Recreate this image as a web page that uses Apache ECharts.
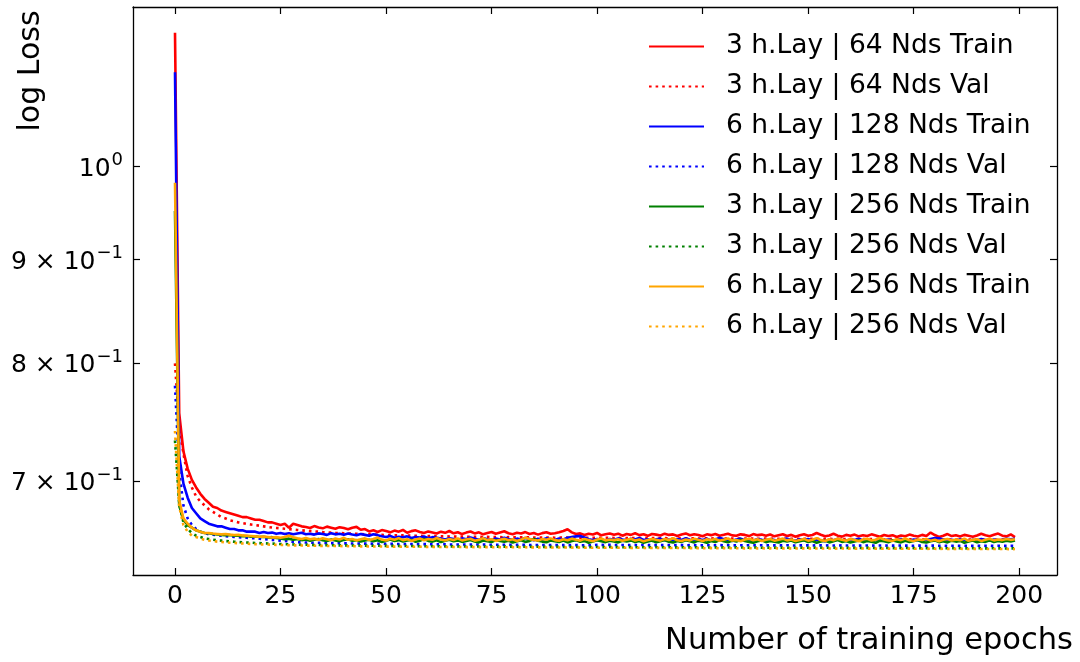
<!DOCTYPE html>
<html>
<head>
<meta charset="utf-8">
<script src="https://cdn.jsdelivr.net/npm/echarts@6/dist/echarts.min.js"></script>
<style>html,body{margin:0;padding:0;background:#fff;}#c{width:1080px;height:662px;}</style>
</head>
<body>
<div id="c"></div>
<script>
// ---------- data ----------
const seriesNames = [
  '3 h.Lay | 64 Nds Train', '3 h.Lay | 64 Nds Val',
  '6 h.Lay | 128 Nds Train', '6 h.Lay | 128 Nds Val',
  '3 h.Lay | 256 Nds Train', '3 h.Lay | 256 Nds Val',
  '6 h.Lay | 256 Nds Train', '6 h.Lay | 256 Nds Val'
];
const xTicks = [0, 25, 50, 75, 100, 125, 150, 175, 200];
const yTicks = [0.7, 0.8, 0.9, 1.0];

const red_train = [
1.164,0.756,0.724,0.710,0.701,0.695,0.690,0.686,0.683,0.680,
0.679,0.677,0.676,0.675,0.674,0.673,0.672,0.672,0.671,0.670,
0.670,0.669,0.668,0.668,0.667,0.666,0.667,0.664,0.667,0.666,
0.6650,0.6645,0.6638,0.6652,0.6641,0.6635,0.6648,0.6640,0.6632,0.6644,0.6637,0.6628,0.6640,0.6646,0.6624,
0.6630,0.6612,0.6620,0.6608,0.6622,0.6615,0.6605,0.6618,0.6610,0.6623,0.6602,0.6614,0.6620,0.6607,0.6600,
0.6612,0.6604,0.6596,0.6610,0.6601,0.6615,0.6598,0.6606,0.6592,0.6603,0.6611,0.6597,0.6605,0.6590,0.6600,
0.6608,0.6595,0.6604,0.6613,0.6598,0.6591,0.6602,0.6596,0.6607,0.6593,0.6600,0.6588,0.6599,0.6605,0.6594,
0.6598,0.6606,0.6615,0.6628,0.6605,0.6592,0.6597,0.6585,0.6594,0.6589,0.6600,0.6583,0.6591,0.6596,0.6587,
0.6595,0.6580,0.6592,0.6586,0.6598,0.6584,0.6590,0.6579,0.6593,0.6588,0.6581,0.6595,0.6586,0.6590,0.6578,
0.6589,0.6597,0.6583,0.6591,0.6585,0.6576,0.6590,0.6584,0.6593,0.6580,0.6587,0.6595,0.6582,0.6579,0.6590,
0.6586,0.6577,0.6592,0.6584,0.6588,
0.6580,0.6589,0.6575,0.6584,0.6591,0.6578,0.6586,0.6572,0.6583,0.6590,0.6579,0.6585,0.6600,0.6587,0.6576,
0.6582,0.6594,0.6580,0.6573,0.6586,0.6579,0.6588,0.6575,0.6583,0.6578,0.6590,0.6581,0.6572,0.6585,0.6577,
0.6584,0.6570,0.6582,0.6576,0.6588,0.6579,0.6574,0.6586,0.6578,0.6603,0.6585,0.6571,0.6580,0.6592,0.6577,
0.6583,0.6574,0.6586,0.6579,0.6572,0.6581,0.6594,0.6583,0.6576,0.6587,0.6596,0.6580,0.6575,0.6589,0.6570
];
const red_val = [
0.800,0.745,0.722,0.704,0.695,0.688,0.684,0.681,0.678,0.676,
0.674,0.672,0.671,0.6695,0.6688,0.6680,0.6674,0.6668,0.6664,0.6660,
0.6655,0.6650,0.6645,0.6641,0.6638,0.6635,0.6632,0.6629,0.6626,0.6623,
0.6620,0.6617,0.6615,0.6612,0.6610,0.6607,0.6605,0.6603,0.6601,0.6600,
0.6598,0.6596,0.6595,0.6594,0.6592,0.6591,0.6590,0.6589,0.6587,0.6586,
0.6585,0.6584,0.6583,0.6583,0.6582,0.6581,0.6580,0.6580,0.6579,0.6578,
0.6577,0.6577,0.6576,0.6575,0.6576,0.6574,0.6574,0.6573,0.6574,0.6572,
0.6572,0.6571,0.6572,0.6570,0.6571,0.6570,0.6569,0.6570,0.6568,0.6569,
0.6568,0.6567,0.6568,0.6567,0.6567,0.6566,0.6567,0.6566,0.6566,0.6566,
0.6565,0.6566,0.6565,0.6566,0.6565,0.6564,0.6565,0.6565,0.6564,0.6565,
0.6565,0.6564,0.6565,0.6564,0.6563,0.6564,0.6563,0.6563,0.6562,0.6563,
0.6562,0.6562,0.6561,0.6562,0.6561,0.6561,0.6562,0.6560,0.6561,0.6561,
0.6560,0.6561,0.6560,0.6560,0.6559,0.6560,0.6560,0.6559,0.6560,0.6559,
0.6559,0.6558,0.6559,0.6559,0.6558,0.6559,0.6558,0.6558,0.6557,0.6558,
0.6558,0.6557,0.6558,0.6557,0.6557,0.6556,0.6557,0.6557,0.6556,0.6557,
0.6556,0.6556,0.6557,0.6555,0.6556,0.6556,0.6555,0.6556,0.6555,0.6555,
0.6555,0.6554,0.6555,0.6555,0.6554,0.6555,0.6554,0.6554,0.6553,0.6554,
0.6554,0.6553,0.6554,0.6553,0.6553,0.6554,0.6552,0.6553,0.6553,0.6552,
0.6553,0.6552,0.6552,0.6553,0.6551,0.6552,0.6552,0.6551,0.6552,0.6551,
0.6551,0.6552,0.6550,0.6551,0.6551,0.6550,0.6551,0.6550,0.6550,0.6551
];
const blue_train = [
1.113,0.720,0.698,0.687,0.679,0.675,0.671,0.669,0.667,0.666,
0.665,0.665,0.664,0.663,0.663,0.662,0.662,0.661,0.661,0.661,
0.660,0.6608,0.6600,0.6603,0.6594,
0.6600,0.6592,0.6598,0.6590,0.6596,0.6602,0.6591,0.6595,0.6588,0.6597,0.6593,0.6586,
0.6599,0.6590,0.6594,0.6587,0.6596,0.6589,0.6583,0.6592,0.6586,0.6580,0.6590,0.6584,
0.6576,0.6570,0.6578,0.6565,0.6572,0.6568,0.6575,0.6563,0.6570,0.6566,0.6574,0.6561,0.6569,0.6564,
0.6558,0.6552,0.6561,0.6555,0.6548,0.6560,0.6553,0.6566,0.6557,0.6550,
0.6562,0.6554,0.6547,0.6559,0.6552,0.6564,0.6556,0.6549,0.6558,0.6551,
0.6563,0.6555,0.6546,0.6557,0.6550,0.6561,0.6553,
0.6548,0.6559,0.6552,0.6565,0.6570,0.6575,0.6578,0.6566,0.6553,0.6547,
0.6556,0.6550,0.6543,0.6555,0.6549,0.6560,0.6552,0.6545,0.6557,0.6551,
0.6563,0.6548,0.6554,0.6541,0.6553,0.6558,0.6546,0.6552,0.6544,0.6556,
0.6549,0.6561,0.6550,0.6543,0.6555,0.6548,0.6557,0.6545,0.6551,0.6564,
0.6553,0.6547,0.6540,0.6552,0.6558,0.6546,0.6550,0.6543,0.6556,0.6549,
0.6545,0.6553,0.6547,0.6540,0.6551,0.6558,0.6549,0.6542,0.6554,0.6547,
0.6556,0.6543,0.6550,0.6545,0.6538,0.6552,0.6546,0.6555,0.6548,0.6541,
0.6553,0.6547,0.6557,0.6544,0.6550,0.6539,0.6548,0.6554,0.6545,0.6551,
0.6542,0.6549,0.6556,0.6546,0.6540,0.6552,0.6547,0.6544,0.6550,0.6556,
0.6562,0.6560,0.6551,0.6545,0.6549,0.6542,0.6553,0.6547,0.6541,0.6550,
0.6546,0.6555,0.6548,0.6543,0.6552,0.6545,0.6549,0.6557,0.6553,0.6556
];
const blue_val = [
0.780,0.708,0.681,0.671,0.666,0.663,0.661,0.660,0.659,0.6587,
0.6583,0.6580,0.6577,0.6574,0.6571,0.6568,0.6566,0.6564,0.6562,0.6560,
0.6557,0.6554,0.6551,0.6549,0.6546,0.6543,0.6540,0.6537,0.6534,0.6532,
0.6530,0.6529,0.6528,0.6527,0.6527,0.6526,0.6525,0.6525,0.6524,0.6524,
0.6523,0.6523,0.6522,0.6522,0.6521,0.6521,0.6521,0.6520,0.6520,0.6520,
0.6519,0.6519,0.6519,0.6518,0.6518,0.6518,0.6518,0.6517,0.6517,0.6517,
0.6517,0.6516,0.6516,0.6516,0.6516,0.6515,0.6515,0.6515,0.6515,0.6514,
0.6514,0.6514,0.6514,0.6514,0.6513,0.6513,0.6513,0.6513,0.6513,0.6512,
0.6512,0.6512,0.6512,0.6512,0.6511,0.6511,0.6511,0.6511,0.6511,0.6511,
0.6510,0.6510,0.6510,0.6510,0.6510,0.6510,0.6509,0.6509,0.6509,0.6509,
0.6512,0.6512,0.6511,0.6512,0.6511,0.6511,0.6511,0.6510,0.6511,0.6511,
0.6510,0.6511,0.6510,0.6510,0.6510,0.6510,0.6511,0.6510,0.6509,0.6510,
0.6510,0.6509,0.6510,0.6510,0.6509,0.6509,0.6510,0.6509,0.6509,0.6510,
0.6509,0.6509,0.6508,0.6509,0.6509,0.6508,0.6509,0.6509,0.6508,0.6509,
0.6508,0.6509,0.6508,0.6508,0.6508,0.6509,0.6508,0.6507,0.6508,0.6508,
0.6508,0.6507,0.6508,0.6508,0.6507,0.6508,0.6507,0.6507,0.6508,0.6507,
0.6507,0.6507,0.6506,0.6507,0.6507,0.6506,0.6507,0.6507,0.6506,0.6507,
0.6506,0.6507,0.6506,0.6506,0.6506,0.6505,0.6506,0.6506,0.6505,0.6506,
0.6506,0.6505,0.6506,0.6505,0.6505,0.6506,0.6505,0.6505,0.6504,0.6505,
0.6505,0.6504,0.6505,0.6505,0.6504,0.6505,0.6504,0.6504,0.6505,0.6504
];
const green_train = [
0.951,0.681,0.670,0.666,0.664,0.662,0.661,0.660,0.6598,0.6592,
0.6590,0.6586,0.6583,0.6585,0.6579,0.6580,0.6576,0.6578,0.6573,0.6575,
0.6570,0.6572,0.6566,0.6569,0.6563,
0.6560,0.6553,0.6558,0.6549,0.6555,0.6547,0.6552,0.6543,0.6550,0.6556,
0.6546,0.6540,0.6551,0.6545,0.6538,0.6549,0.6553,0.6542,0.6547,0.6536,
0.6545,0.6550,0.6539,0.6546,0.6533,0.6543,0.6552,0.6540,0.6547,0.6537,
0.6544,0.6549,0.6535,0.6542,0.6555,0.6541,0.6536,0.6546,0.6532,0.6543,
0.6550,0.6538,0.6545,0.6534,0.6541,0.6548,0.6537,0.6530,0.6544,0.6539,
0.6533,0.6547,0.6540,0.6535,0.6543,0.6529,0.6538,0.6546,0.6534,0.6541,
0.6555,0.6542,0.6536,0.6531,0.6545,0.6538,0.6533,0.6544,0.6530,0.6540,
0.6547,0.6535,0.6541,0.6528,0.6537,0.6546,0.6539,0.6532,0.6543,0.6536,
0.6530,0.6542,0.6537,0.6545,0.6533,0.6540,0.6528,0.6536,0.6544,0.6531,
0.6539,0.6548,0.6535,0.6529,0.6541,0.6534,0.6546,0.6538,0.6530,0.6543,
0.6536,0.6527,0.6540,0.6533,0.6547,0.6539,0.6531,0.6544,0.6537,0.6550,
0.6541,0.6534,0.6528,0.6539,0.6545,0.6532,0.6540,0.6535,0.6529,0.6542,
0.6537,0.6544,0.6531,0.6538,0.6546,0.6533,0.6540,0.6528,0.6536,0.6543,
0.6530,0.6539,0.6547,0.6534,0.6541,0.6529,0.6537,0.6545,0.6532,0.6540,
0.6535,0.6527,0.6543,0.6538,0.6531,0.6546,0.6536,0.6530,0.6542,0.6534,
0.6540,0.6548,0.6533,0.6529,0.6539,0.6545,0.6532,0.6538,0.6530,0.6543,
0.6536,0.6541,0.6528,0.6537,0.6544,0.6531,0.6539,0.6534,0.6546,0.6533,
0.6540,0.6535,0.6542,0.6537,0.6544
];
const green_val = [
0.733,0.682,0.668,0.663,0.660,0.658,0.657,0.656,0.6555,0.6550,
0.6546,0.6543,0.6540,0.6538,0.6535,0.6533,0.6531,0.6529,0.6528,0.6526,
0.6525,0.6523,0.6522,0.6521,0.6520,0.6518,0.6517,0.6516,0.6515,0.6514,
0.6513,0.6513,0.6512,0.6511,0.6511,0.6510,0.6510,0.6509,0.6509,0.6508,
0.6508,0.6507,0.6507,0.6507,0.6506,0.6506,0.6506,0.6505,0.6505,0.6505,
0.6504,0.6504,0.6504,0.6504,0.6503,0.6503,0.6503,0.6503,0.6502,0.6502,
0.6502,0.6502,0.6501,0.6502,0.6501,0.6501,0.6501,0.6500,0.6501,0.6500,
0.6500,0.6500,0.6500,0.6499,0.6500,0.6499,0.6499,0.6499,0.6499,0.6498,
0.6499,0.6498,0.6498,0.6498,0.6498,0.6497,0.6498,0.6497,0.6497,0.6497,
0.6497,0.6497,0.6496,0.6497,0.6496,0.6496,0.6496,0.6496,0.6495,0.6496,
0.6496,0.6495,0.6495,0.6496,0.6495,0.6495,0.6494,0.6495,0.6495,0.6494,
0.6495,0.6494,0.6494,0.6494,0.6495,0.6494,0.6493,0.6494,0.6494,0.6493,
0.6494,0.6493,0.6493,0.6494,0.6493,0.6493,0.6492,0.6493,0.6493,0.6492,
0.6493,0.6492,0.6492,0.6493,0.6492,0.6492,0.6491,0.6492,0.6492,0.6491,
0.6492,0.6491,0.6491,0.6492,0.6491,0.6491,0.6490,0.6491,0.6491,0.6490,
0.6491,0.6490,0.6490,0.6491,0.6490,0.6490,0.6490,0.6489,0.6490,0.6490,
0.6489,0.6490,0.6489,0.6489,0.6490,0.6489,0.6489,0.6488,0.6489,0.6489,
0.6488,0.6489,0.6488,0.6488,0.6489,0.6488,0.6488,0.6487,0.6488,0.6488,
0.6487,0.6488,0.6487,0.6487,0.6488,0.6487,0.6487,0.6486,0.6487,0.6487,
0.6486,0.6487,0.6486,0.6486,0.6487,0.6486,0.6486,0.6485,0.6486,0.6486
];
const orange_train = [
0.982,0.685,0.671,0.667,0.664,0.662,0.661,0.660,0.6600,0.6596,
0.6593,0.6590,0.6592,0.6588,0.6585,0.6587,0.6582,0.6580,0.6578,0.6575,
0.6572,0.6574,0.6570,0.6566,0.6569,
0.6565,0.6570,0.6580,0.6568,0.6560,0.6555,0.6562,0.6553,0.6558,0.6550,
0.6561,0.6554,0.6547,0.6559,0.6552,0.6564,0.6549,0.6556,0.6545,0.6553,
0.6560,0.6548,0.6555,0.6566,0.6551,0.6544,0.6557,0.6550,0.6562,0.6547,
0.6554,0.6541,0.6552,0.6559,0.6546,0.6556,0.6549,0.6563,0.6551,0.6544,
0.6555,0.6548,0.6560,0.6545,0.6552,0.6557,0.6543,0.6550,0.6562,0.6547,
0.6554,0.6541,0.6549,0.6558,0.6546,0.6553,0.6540,0.6551,0.6565,0.6556,
0.6548,0.6544,0.6555,0.6549,0.6560,0.6547,0.6542,0.6553,0.6546,0.6558,
0.6550,0.6543,0.6556,0.6548,0.6539,0.6552,0.6559,0.6545,0.6551,0.6547,
0.6554,0.6542,0.6549,0.6557,0.6544,0.6551,0.6538,0.6547,0.6556,0.6550,
0.6543,0.6555,0.6548,0.6561,0.6546,0.6540,0.6552,0.6545,0.6558,0.6549,
0.6541,0.6553,0.6547,0.6555,0.6542,0.6550,0.6559,0.6544,0.6548,0.6539,
0.6551,0.6557,0.6546,0.6553,0.6540,0.6549,0.6555,0.6543,0.6550,0.6558,
0.6545,0.6552,0.6541,0.6548,0.6556,0.6543,0.6550,0.6562,0.6547,0.6540,
0.6553,0.6546,0.6558,0.6549,0.6542,0.6555,0.6548,0.6539,0.6551,0.6557,
0.6544,0.6550,0.6563,0.6552,0.6545,0.6541,0.6554,0.6547,0.6559,0.6546,
0.6540,0.6552,0.6548,0.6556,0.6543,0.6550,0.6538,0.6549,0.6555,0.6544,
0.6551,0.6546,0.6558,0.6542,0.6549,0.6554,0.6541,0.6550,0.6557,0.6545,
0.6552,0.6547,0.6555,0.6549,0.6553
];
const orange_val = [
0.741,0.680,0.666,0.661,0.658,0.657,0.6558,0.6550,0.6544,0.6540,
0.6536,0.6533,0.6530,0.6528,0.6526,0.6524,0.6522,0.6520,0.6519,0.6517,
0.6516,0.6515,0.6514,0.6513,0.6512,0.6511,0.6510,0.6509,0.6508,0.6508,
0.6507,0.6506,0.6506,0.6505,0.6505,0.6504,0.6504,0.6503,0.6503,0.6503,
0.6502,0.6502,0.6502,0.6501,0.6501,0.6501,0.6500,0.6500,0.6500,0.6500,
0.6499,0.6499,0.6499,0.6499,0.6498,0.6498,0.6498,0.6498,0.6498,0.6497,
0.6497,0.6497,0.6497,0.6496,0.6497,0.6496,0.6496,0.6496,0.6496,0.6495,
0.6496,0.6495,0.6495,0.6495,0.6495,0.6494,0.6495,0.6494,0.6494,0.6494,
0.6494,0.6494,0.6493,0.6494,0.6493,0.6493,0.6493,0.6493,0.6492,0.6493,
0.6492,0.6492,0.6492,0.6493,0.6492,0.6491,0.6492,0.6491,0.6491,0.6491,
0.6491,0.6491,0.6490,0.6491,0.6490,0.6490,0.6490,0.6490,0.6489,0.6490,
0.6490,0.6489,0.6489,0.6489,0.6490,0.6489,0.6489,0.6488,0.6489,0.6489,
0.6488,0.6489,0.6488,0.6488,0.6488,0.6488,0.6487,0.6488,0.6488,0.6487,
0.6488,0.6487,0.6487,0.6487,0.6487,0.6486,0.6487,0.6487,0.6486,0.6487,
0.6486,0.6486,0.6487,0.6486,0.6486,0.6485,0.6486,0.6486,0.6485,0.6486,
0.6485,0.6486,0.6485,0.6485,0.6485,0.6485,0.6484,0.6485,0.6485,0.6484,
0.6485,0.6484,0.6484,0.6485,0.6484,0.6484,0.6484,0.6483,0.6484,0.6484,
0.6483,0.6484,0.6483,0.6483,0.6484,0.6483,0.6483,0.6483,0.6482,0.6483,
0.6483,0.6482,0.6483,0.6482,0.6482,0.6482,0.6483,0.6482,0.6481,0.6482,
0.6482,0.6481,0.6482,0.6481,0.6481,0.6482,0.6481,0.6481,0.6480,0.6481
];

// ---------- build chart ----------
const seriesData = [red_train, red_val, blue_train, blue_val, green_train, green_val, orange_train, orange_val];
const colors = ['#ff0000', '#ff0000', '#0000ff', '#0000ff', '#008000', '#008000', '#ffa500', '#ffa500'];
const dotted = [false, true, false, true, false, true, false, true];

const FONT = 'DejaVu Sans';
const nEpochs = Math.max(...seriesData.map(a => a.length));
const xPad = (nEpochs - 1) * 0.05;
const allLog = [].concat(...seriesData).map(v => Math.log10(v));
const lmin = Math.min(...allLog), lmax = Math.max(...allLog);
const lpad = (lmax - lmin) * 0.05;
const yMin = lmin - lpad, yMax = lmax + lpad;
const yTickLog = yTicks.map(v => Math.log10(v));

function yLabel(v) {
  const real = Math.round(Math.pow(10, v) * 10) / 10;
  if (Math.abs(real - 1) < 1e-6) return '{b|10}{s|0}';
  const m = Math.round(real * 10);
  return '{b|' + m + ' × 10}{s|−1}';
}

const chart = echarts.init(document.getElementById('c'), null, {renderer: 'canvas'});
const axisLineStyle = {color: '#000', width: 1.3};
const tickStyle = {color: '#000', width: 1.2};

const option = {
  animation: false,
  backgroundColor: '#fff',
  grid: {left: 133, right: 23, top: 7, bottom: 87, containLabel: false},
  xAxis: [{
    type: 'value', min: -xPad, max: nEpochs - 1 + xPad,
    axisLine: {show: true, onZero: false, lineStyle: axisLineStyle},
    axisTick: {show: true, inside: true, length: 7, lineStyle: tickStyle, customValues: xTicks},
    axisLabel: {show: true, margin: 9, color: '#000', fontFamily: FONT, fontSize: 25, customValues: xTicks},
    splitLine: {show: false}
  }, {
    type: 'value', position: 'top', min: -xPad, max: nEpochs - 1 + xPad,
    axisLine: {show: true, onZero: false, lineStyle: axisLineStyle},
    axisTick: {show: true, inside: true, length: 7, lineStyle: tickStyle, customValues: xTicks},
    axisLabel: {show: false}, splitLine: {show: false}
  }],
  yAxis: [{
    type: 'value', min: yMin, max: yMax,
    axisLine: {show: true, onZero: false, lineStyle: axisLineStyle},
    axisTick: {show: true, inside: true, length: 7, lineStyle: tickStyle, customValues: yTickLog},
    axisLabel: {
      show: true, margin: 10, color: '#000', customValues: yTickLog,
      formatter: yLabel,
      rich: {
        b: {fontFamily: FONT, fontSize: 25, color: '#000', lineHeight: 30, verticalAlign: 'bottom'},
        s: {fontFamily: FONT, fontSize: 18, color: '#000', lineHeight: 18, verticalAlign: 'top', padding: [0, 0, 0, 1]}
      }
    },
    splitLine: {show: false}
  }, {
    type: 'value', position: 'right', min: yMin, max: yMax,
    axisLine: {show: true, onZero: false, lineStyle: axisLineStyle},
    axisTick: {show: true, inside: true, length: 7, lineStyle: tickStyle, customValues: yTickLog},
    axisLabel: {show: false}, splitLine: {show: false}
  }],
  legend: {
    orient: 'vertical', left: 648, top: 33, padding: 0,
    itemWidth: 55, itemHeight: 14, itemGap: 13,
    data: seriesNames,
    itemStyle: {opacity: 0},
    textStyle: {fontFamily: FONT, fontSize: 26.5, color: '#000', lineHeight: 27, padding: [0, 0, 0, 17]}
  },
  graphic: [{
    type: 'text', x: 31, y: 71, rotation: Math.PI / 2,
    style: {text: 'log Loss', fontFamily: FONT, fontSize: 30, fill: '#000', align: 'center', verticalAlign: 'middle'}
  }, {
    type: 'text', x: 1073, y: 641,
    style: {text: 'Number of training epochs', fontFamily: FONT, fontSize: 30.5, fill: '#000', align: 'right', verticalAlign: 'middle'}
  }],
  series: seriesData.map((arr, i) => ({
    name: seriesNames[i], type: 'line', xAxisIndex: 0, yAxisIndex: 0,
    showSymbol: false, symbol: 'none', smooth: false,
    data: arr.map((v, k) => [k, Math.log10(v)]),
    lineStyle: {color: colors[i], width: 2.6, type: dotted[i] ? [2.6, 4] : 'solid', cap: 'butt'},
    itemStyle: {color: colors[i]},
    emphasis: {disabled: true},
    z: 2 + i
  }))
};
chart.setOption(option);
</script>
</body>
</html>
